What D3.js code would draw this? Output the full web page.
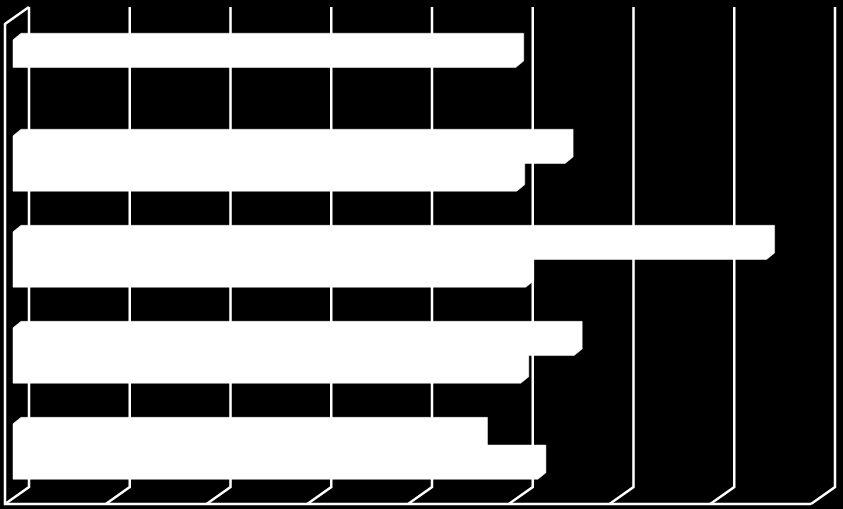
<!DOCTYPE html>
<html>
<head>
<meta charset="utf-8">
<script src="https://cdn.jsdelivr.net/npm/d3@7"></script>
<style>
  html, body { margin: 0; padding: 0; background: #000; }
  svg { display: block; }
</style>
</head>
<body>
<script>
// ---- data (top category first) ----
const categories = ["Category 5", "Category 4", "Category 3", "Category 2", "Category 1"];
const seriesNames = ["Series 2", "Series 1"];   // upper bar, lower bar in each group
const seriesUpper = [4.99, 5.48, 7.48, 5.57, 4.63];
const seriesLower = [null, 5.00, 5.09, 5.04, 5.21];
const tickValues = [0, 1, 2, 3, 4, 5, 6, 7, 8];

const W = 843, H = 509;
const svg = d3.select("body").append("svg").attr("width", W).attr("height", H)
  .style("background", "#000");

// back wall plane
const x = d3.scaleLinear().domain([0, 8]).range([29, 835]);
const y = d3.scaleBand().domain(categories).range([7, 487])
  .paddingInner(0.423).paddingOuter(0.211).align(0.53);
const ys = d3.scaleBand().domain(seriesNames).range([0, y.bandwidth()]).padding(0);

// depth offsets
const floorShift = { dx: -24, dy: 17 };
const barFront = { dx: -16, dy: 11.3 };
const barBack = { dx: -8, dy: 4.8 };

const stroke = "#fff", sw = 2.5;

// gridlines + floor diagonals
const g = svg.append("g");
tickValues.forEach(t => {
  const xv = x(t);
  g.append("path")
    .attr("d", `M${xv},7 L${xv},${487} L${xv + floorShift.dx},${487 + floorShift.dy}`)
    .attr("fill", "none").attr("stroke", stroke).attr("stroke-width", sw)
    .attr("stroke-linejoin", "miter");
});
// left wall
const x0 = x(0);
g.append("path")
  .attr("d", `M${x0},7 L${x0 + floorShift.dx},${7 + floorShift.dy} L${x0 + floorShift.dx},${487 + floorShift.dy} L${x(8) + floorShift.dx},${487 + floorShift.dy}`)
  .attr("fill", "none").attr("stroke", stroke).attr("stroke-width", sw);

// bars
const bars = [];
categories.forEach((c, i) => {
  [[seriesNames[0], seriesUpper[i]], [seriesNames[1], seriesLower[i]]].forEach(([s, v]) => {
    if (v == null) return;
    bars.push({ c, s, v });
  });
});

function barPath(d) {
  const top = y(d.c) + ys(d.s);
  const bot = top + ys.bandwidth();
  const fx0 = x(0) + barFront.dx, fx1 = x(d.v) + barFront.dx;
  const ft = top + barFront.dy, fb = bot + barFront.dy;
  const bx = barBack.dx - barFront.dx, by = barBack.dy - barFront.dy;
  return `M${fx0},${ft} L${fx0 + bx},${ft + by} L${fx1 + bx},${ft + by} L${fx1 + bx},${fb + by} L${fx1},${fb} L${fx0},${fb} Z`;
}

svg.append("g").selectAll("path").data(bars).join("path")
  .attr("d", barPath)
  .attr("fill", "#fff")
  .attr("stroke", "#fff")
  .attr("stroke-width", 0.5);
</script>
</body>
</html>
